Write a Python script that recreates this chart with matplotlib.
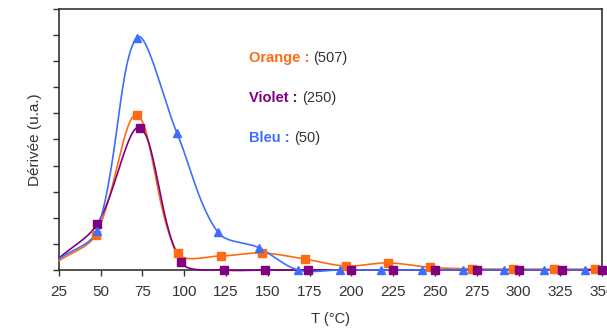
import numpy as np
import matplotlib
matplotlib.use("Agg")
import matplotlib.pyplot as plt

plt.rcParams['font.family'] = ['Liberation Sans', 'DejaVu Sans']

# values (first point at 25 has no marker)
orange_t = [25, 47, 71.6, 96, 122, 146.5, 172, 196.6, 221.8, 247, 272, 296.6, 321, 346]
orange_y = [0.35, 1.34, 5.94, 0.65, 0.54, 0.65, 0.42, 0.15, 0.27, 0.1, 0.04, 0.03, 0.03, 0.03]

violet_t = [25, 48, 73.4, 98, 123.7, 148.6, 174, 199.5, 225, 250, 275, 300, 326, 350]
violet_y = [0.45, 1.76, 5.45, 0.3, 0, 0, 0, 0, 0, 0, 0, 0, 0, 0]

bleu_t = [25, 47.7, 71.6, 95.6, 120, 144.6, 168, 193, 218, 242, 266.6, 291, 315, 339.6]
bleu_y = [0.42, 1.5, 8.9, 5.25, 1.45, 0.85, 0, 0, 0, 0, 0, 0, 0, 0]

labels = ["Orange :", "Violet :", "Bleu :"]
counts = ["(507)", "(250)", "(50)"]
colors = ["#FF6A13", "#800080", "#3D6EFF"]

x_ticks = list(range(25, 351, 25))


def smooth(xs, ys, sx=1.672, sy=26.1, n=30):
    """Excel-like smoothed line: Bezier segments through the points."""
    p = np.column_stack([np.asarray(xs, float) * sx, np.asarray(ys, float) * sy])
    out = [p[0]]
    for i in range(len(p) - 1):
        p0 = p[i - 1] if i > 0 else p[i]
        p1, p2 = p[i], p[i + 1]
        p3 = p[i + 2] if i + 2 < len(p) else p[i + 1]
        d01 = np.hypot(*(p1 - p0))
        d12 = np.hypot(*(p2 - p1))
        d23 = np.hypot(*(p3 - p2))
        f1 = d12 / (d01 + d12) / 3 if d01 + d12 > 0 else 0
        f2 = d12 / (d12 + d23) / 3 if d12 + d23 > 0 else 0
        c1 = p1 + (p2 - p0) * f1
        c2 = p2 - (p3 - p1) * f2
        t = np.linspace(0, 1, n)[1:, None]
        seg = ((1 - t) ** 3 * p1 + 3 * (1 - t) ** 2 * t * c1
               + 3 * (1 - t) * t ** 2 * c2 + t ** 3 * p2)
        out.extend(seg)
    out = np.array(out)
    return out[:, 0] / sx, out[:, 1] / sy


fig = plt.figure(figsize=(6.07, 3.28), dpi=100)
ax = fig.add_axes([0.097, 0.177, 0.895, 0.796])

series = [(orange_t, orange_y, 's'), (violet_t, violet_y, 's'), (bleu_t, bleu_y, '^')]
for (t, y, m), c in zip(series, colors):
    sx, sy = smooth(t, y)
    ax.plot(sx, sy, color=c, lw=1.2, clip_on=False, zorder=3)
    ax.plot(t[1:], y[1:], ls='none', marker=m, color=c, ms=5.5,
            clip_on=False, zorder=4)

ax.set_xlim(25, 350)
ax.set_ylim(0, 10)
ax.set_xticks(x_ticks)
ax.set_xticklabels([str(v) for v in x_ticks], fontsize=11, color='#333333')
ax.set_yticks(range(0, 11))
ax.set_yticklabels([])
ax.tick_params(direction='out', length=4, width=1, color='#333333')
ax.tick_params(axis='x', pad=7)
for s in ax.spines.values():
    s.set_color('#333333')
    s.set_linewidth(1.2)

ax.set_xlabel("T (°C)", fontsize=10.5, color='#333333', labelpad=9)
ax.set_ylabel("Dérivée (u.a.)", fontsize=11, color='#333333', labelpad=5)

for i, (lab, cnt, c) in enumerate(zip(labels, counts, colors)):
    ypos = 0.81 - i * 0.153
    txt = ax.text(0.35, ypos, lab + " ", transform=ax.transAxes, color=c,
                  fontsize=10.5, fontweight='bold', va='center', ha='left')
    fig.canvas.draw()
    bb = txt.get_window_extent().transformed(ax.transAxes.inverted())
    ax.text(bb.x1, ypos, cnt, transform=ax.transAxes, color='#333333',
            fontsize=10.5, va='center', ha='left')

fig.savefig("out.png", dpi=100)
